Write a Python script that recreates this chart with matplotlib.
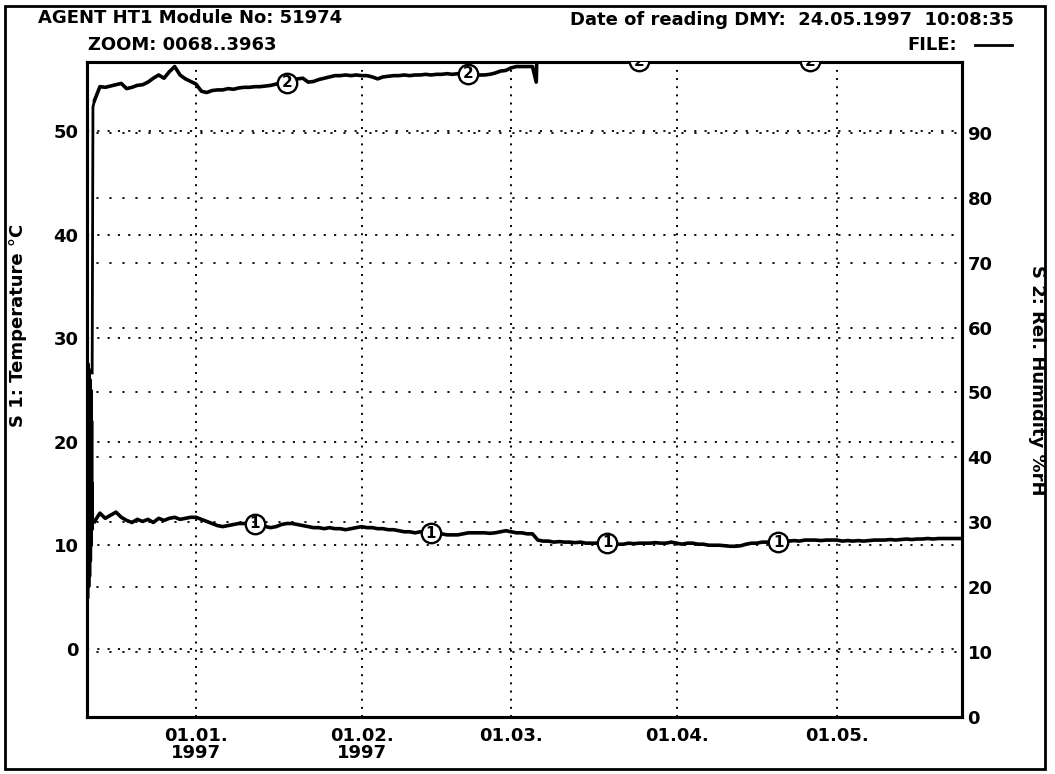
import numpy as np
import pandas as pd
import matplotlib
matplotlib.use("Agg")
import matplotlib.pyplot as plt
from matplotlib.patches import Rectangle

# ---------------- data ----------------
# time axis: days relative to 01.01.1997 00:00
ORIGIN = pd.Timestamp("1997-01-01")
READ_TIME = pd.Timestamp("1997-05-24 10:08:35")
LOG_START = pd.Timestamp("1996-12-11 14:00")

# S1 temperature (deg C): start-up transient, then one reading per day
temp_start_days = [-20.25, -20.17, -20.09, -20.01, -19.93, -19.85, -19.77, -19.69, -19.61,
                   -19.55, -19.5, -19.45, -19.4]
temp_start_vals = [5.0, 27.5, 6.0, 27.0, 7.0, 26.0, 8.5, 25.0, 10.0,
                   22.0, 11.5, 16.0, 12.4]

temp_days = list(range(-19, 143)) + [143.4]
temp_vals = [
    12.3, 13.1, 12.6, 12.9, 13.2, 12.7, 12.4, 12.2, 12.5, 12.3,
    12.5, 12.2, 12.6, 12.4, 12.6, 12.7, 12.5, 12.6, 12.7, 12.7,
    12.5, 12.3, 12.1, 11.9, 11.8, 11.9, 12.0, 12.1, 12.1, 12.2,
    12.1, 12.0, 11.8, 11.7, 11.8, 12.0, 12.1, 12.1, 12.0, 11.9,
    11.8, 11.7, 11.7, 11.6, 11.7, 11.6, 11.6, 11.5, 11.6, 11.7,
    11.8, 11.7, 11.7, 11.6, 11.6, 11.5, 11.5, 11.4, 11.3, 11.3,
    11.2, 11.3, 11.2, 11.15, 11.1, 11.1, 11.0, 11.0, 11.0, 11.1,
    11.2, 11.2, 11.2, 11.2, 11.15, 11.2, 11.3, 11.4, 11.3, 11.2,
    11.2, 11.1, 11.1, 10.5, 10.4, 10.4, 10.3, 10.35, 10.3, 10.3,
    10.25, 10.3, 10.2, 10.2, 10.2, 10.3, 10.25, 10.2, 10.1, 10.1,
    10.2, 10.15, 10.2, 10.2, 10.2, 10.25, 10.2, 10.2, 10.3, 10.2,
    10.1, 10.2, 10.2, 10.1, 10.1, 10.0, 10.0, 10.0, 9.95, 9.9,
    9.9, 9.95, 10.1, 10.2, 10.2, 10.3, 10.3, 10.3, 10.3, 10.4,
    10.4, 10.45, 10.4, 10.5, 10.5, 10.5, 10.45, 10.5, 10.5, 10.5,
    10.4, 10.45, 10.4, 10.45, 10.4, 10.45, 10.5, 10.5, 10.5, 10.55,
    10.5, 10.55, 10.6, 10.55, 10.6, 10.6, 10.65, 10.6, 10.65, 10.65,
    10.65, 10.65, 10.65,
]

# S2 relative humidity (%rH); above the scale top from early March on
hum_start_days = [-19.45, -19.3]
hum_start_vals = [53.0, 94.0]

hum_days = list(range(-19, 64)) + [63.7, 63.8, 70, 77, 83, 90, 100, 108, 115, 125, 135, 143.4]
hum_vals = [
    95.0, 97.1, 97.0, 97.2, 97.4, 97.6, 96.8, 97.0, 97.3, 97.4,
    97.8, 98.4, 98.9, 98.4, 99.4, 100.2, 98.9, 98.3, 97.9, 97.5,
    96.4, 96.2, 96.5, 96.6, 96.6, 96.8, 96.7, 96.9, 97.0, 97.0,
    97.1, 97.1, 97.2, 97.3, 97.5, 97.6, 97.7, 97.9, 98.3, 98.4,
    97.8, 97.9, 98.2, 98.4, 98.6, 98.8, 98.8, 98.9, 98.8, 98.9,
    98.8, 98.8, 98.6, 98.3, 98.6, 98.7, 98.8, 98.8, 98.9, 98.8,
    98.9, 98.9, 99.0, 98.9, 99.0, 99.0, 99.1, 99.0, 99.1, 99.1,
    99.1, 99.0, 98.9, 98.9, 99.0, 99.2, 99.5, 99.6, 100.0, 100.2,
    100.2, 100.2, 100.2,
    97.8, 101.0, 101.0, 101.0, 101.0, 101.0, 101.0, 101.0, 101.0, 101.0, 101.0, 101.0,
]

# numbered channel markers (days)
s1_mark_days = [11, 44, 77, 109]
s2_mark_days = [17, 51, 83, 115]

month_ticks = ["1997-01-01", "1997-02-01", "1997-03-01", "1997-04-01", "1997-05-01"]
month_labels = ["01.01.\n1997", "01.02.\n1997", "01.03.", "01.04.", "01.05."]

temp_ticks = [0, 10, 20, 30, 40, 50]
hum_ticks = [0, 10, 20, 30, 40, 50, 60, 70, 80, 90]

title_left = "AGENT HT1 Module No: 51974"
zoom_text = "ZOOM: 0068..3963"
date_text = "Date of reading DMY:  24.05.1997  10:08:35"
file_text = "FILE:"
temp_label = "S 1: Temperature \u00b0C"
hum_label = "S 2: Rel. Humidity %rH"


def to_time(days):
    return ORIGIN + pd.to_timedelta(np.asarray(days, dtype=float), unit="D")


# ---------------- figure ----------------
W, H = 1055, 774
fig = plt.figure(figsize=(W / 100, H / 100), dpi=100)
fig.patch.set_facecolor("white")


def fx(px):
    return px / W


def fy(py):
    return 1 - py / H


FONT = "DejaVu Sans"
FS = 13

ax = fig.add_axes([fx(87), fy(717), fx(962) - fx(87), fy(62) - fy(717)])
ax2 = ax.twinx()

# temperature axis
ax.set_ylim(-6.6, 56.7)
ax.set_xlim(LOG_START, READ_TIME)
ax.set_yticks(temp_ticks)
ax.set_yticklabels([str(t) for t in temp_ticks], fontsize=FS, fontweight="bold", family=FONT)
ax.set_xticks(pd.to_datetime(month_ticks))
ax.set_xticklabels(month_labels, fontsize=FS, fontweight="bold", family=FONT, linespacing=0.95)
ax.tick_params(axis="both", length=0)
ax.tick_params(axis="y", pad=6)
ax.tick_params(axis="x", pad=7)

# humidity axis
ax2.set_ylim(0, 100.9)
ax2.set_yticks(hum_ticks)
ax2.set_yticklabels([str(t) for t in hum_ticks], fontsize=FS, fontweight="bold", family=FONT)
ax2.tick_params(axis="y", length=0, pad=4)

for a in (ax, ax2):
    for s in a.spines.values():
        s.set_linewidth(2.2)
        s.set_color("black")

# grid: vertical month lines, horizontal lines for both scales
for t in month_ticks:
    ax.axvline(pd.Timestamp(t), color="black", lw=1.4, ls=(0, (1.0, 3.2)), zorder=1)
for t in temp_ticks:
    ax.axhline(t, color="black", lw=1.3, ls=(0, (1.2, 4.5)), zorder=1)
for t in hum_ticks[1:]:
    ax2.axhline(t, color="black", lw=1.3, ls=(2, (1.2, 6.0)), zorder=1)

# series
ax.plot(to_time(temp_start_days + temp_days[:1]), temp_start_vals + temp_vals[:1],
        color="black", lw=2.4, zorder=3)
ax.plot(to_time(temp_days), temp_vals, color="black", lw=2.6, zorder=3)
ax2.plot(to_time(hum_start_days + hum_days[:1]), hum_start_vals + hum_vals[:1],
         color="black", lw=2.0, zorder=3)
ax2.plot(to_time(hum_days), hum_vals, color="black", lw=2.6, zorder=3)

temp_lookup = dict(zip(temp_days, temp_vals))
hum_lookup = dict(zip(hum_days, hum_vals))

for d in s1_mark_days:
    t = to_time([d])[0]
    v = temp_lookup[d]
    ax.plot([t], [v], marker="o", ms=14, mfc="white", mec="black", mew=1.7, zorder=5)
    ax.text(t, v, "1", ha="center", va="center", fontsize=11, fontweight="bold",
            family=FONT, zorder=6, clip_on=True)
for d in s2_mark_days:
    t = to_time([d])[0]
    v = hum_lookup[d]
    ax2.plot([t], [v], marker="o", ms=14, mfc="white", mec="black", mew=1.7, zorder=5)
    ax2.text(t, v, "2", ha="center", va="center", fontsize=11, fontweight="bold",
             family=FONT, zorder=6, clip_on=True)

# axis titles
fig.text(fx(18), fy(325), temp_label, rotation=90, ha="center", va="center",
         fontsize=FS, fontweight="bold", family=FONT)
fig.text(fx(1037), fy(380), hum_label, rotation=-90, ha="center", va="center",
         fontsize=FS, fontweight="bold", family=FONT)

# header lines
fig.text(fx(38), fy(18), title_left, ha="left", va="center", fontsize=FS, fontweight="bold", family=FONT)
fig.text(fx(88), fy(45), zoom_text, ha="left", va="center", fontsize=FS, fontweight="bold", family=FONT)
fig.text(fx(1014), fy(20), date_text, ha="right", va="center", fontsize=FS, fontweight="bold", family=FONT)
fig.text(fx(957), fy(45), file_text, ha="right", va="center", fontsize=FS, fontweight="bold", family=FONT)
fig.add_artist(plt.Line2D([fx(975), fx(1012)], [fy(45), fy(45)], color="black", lw=2.0))

# page frame
fig.add_artist(Rectangle((fx(5), fy(769)), fx(1045) - fx(5), fy(6) - fy(769),
                         fill=False, edgecolor="black", lw=2.0, transform=fig.transFigure))

fig.savefig("out.png", dpi=100, facecolor="white")
